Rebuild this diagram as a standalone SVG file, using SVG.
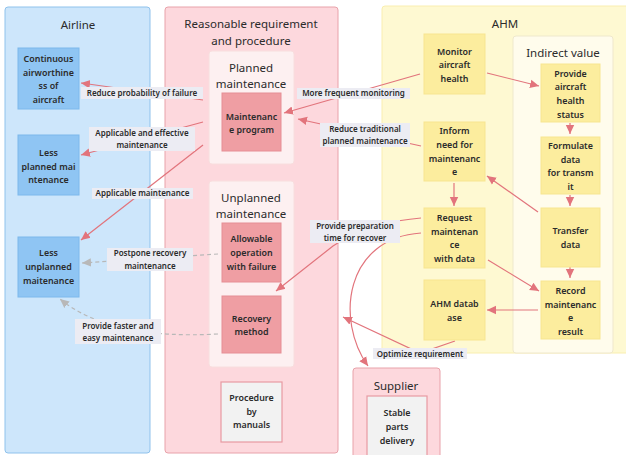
<svg xmlns="http://www.w3.org/2000/svg" width="626" height="455" viewBox="0 0 626 455">
<defs>
<marker id="ar" markerUnits="userSpaceOnUse" markerWidth="10" markerHeight="10" viewBox="0 0 10 10" refX="9" refY="5" orient="auto"><path d="M0,0.8 L9,5 L0,9.2 Z" fill="#e2747c"/></marker>
<marker id="ag" markerUnits="userSpaceOnUse" markerWidth="10" markerHeight="10" viewBox="0 0 10 10" refX="9" refY="5" orient="auto"><path d="M0,0.8 L9,5 L0,9.2 Z" fill="#b8b8b8"/></marker>
</defs>
<style>
text{font-family:"Noto Sans","DejaVu Sans",sans-serif;fill:#2b2b2b;text-anchor:middle}
.t{font-size:11.5px}
.n{font-size:8.9px;font-weight:600}
.l{font-size:8px;font-weight:600}
.cb{fill:#cde6fb;stroke:#8fc2ec;stroke-width:1}
.cp{fill:#fdd8dd;stroke:#e8a2aa;stroke-width:1}
.cy{fill:#fef9d2;stroke:#f9eeb0;stroke-width:1}
.sp{fill:#fdf0f1;stroke:#f8dede;stroke-width:1}
.sy{fill:#fffcec;stroke:#efe8cc;stroke-width:1}
.nb{fill:#8fc5f3;stroke:#7cb8ec;stroke-width:1}
.np{fill:#ef9ea3;stroke:#e68e95;stroke-width:1}
.ng{fill:#f2f2f2;stroke:#e89aa2;stroke-width:1.2}
.ny{fill:#fced9e;stroke:#f7e590;stroke-width:1}
.lb{fill:#ececf3}
.e{fill:none;stroke:#e2747c;stroke-width:1.2}
.d{fill:none;stroke:#b8b8b8;stroke-width:1.2;stroke-dasharray:4 3}
</style>
<g id="airline">
<rect class="cb" x="5" y="7" width="145" height="446" rx="3"/>
<text class="t" x="78" y="29">Airline</text>
</g>
<g id="reasonable">
<rect class="cp" x="165" y="7" width="173" height="446" rx="3"/>
<text class="t" x="251" y="28">Reasonable requirement</text>
<text class="t" x="251" y="45">and procedure</text>
</g>
<g id="planned">
<rect class="sp" x="209" y="51" width="85" height="113" rx="3"/>
<text class="t" x="251" y="72">Planned</text>
<text class="t" x="251" y="88">maintenance</text>
</g>
<g id="unplanned">
<rect class="sp" x="209" y="181" width="85" height="186" rx="3"/>
<text class="t" x="251" y="202">Unplanned</text>
<text class="t" x="251" y="218">maintenance</text>
</g>
<g id="ahm">
<rect class="cy" x="382" y="6" width="250" height="347" rx="3"/>
<text class="t" x="505" y="28">AHM</text>
</g>
<g id="indirect">
<rect class="sy" x="513" y="36" width="100" height="317" rx="3"/>
<text class="t" x="563" y="57">Indirect value</text>
</g>
<g id="supplier">
<rect class="cp" x="353" y="368" width="87" height="92" rx="3"/>
<text class="t" x="396" y="390">Supplier</text>
</g>

<g id="connectors">
<path class="e" d="M420,74 L284,113" marker-end="url(#ar)"/>
<path class="e" d="M421,146 L298,119" marker-end="url(#ar)"/>
<path class="e" d="M203,100 L81,83" marker-end="url(#ar)"/>
<path class="e" d="M203,122 L81,155" marker-end="url(#ar)"/>
<path class="e" d="M203,145 L81,240" marker-end="url(#ar)"/>
<path class="d" d="M218,254 L82,263" marker-end="url(#ag)"/>
<path class="d" d="M218,334 Q110,340 60,299" marker-end="url(#ag)"/>
<path class="e" d="M421,218 C395,220 360,228 333,246 L276,291" marker-end="url(#ar)"/>
<path class="e" d="M421,233 C345,238 335,320 368,366" marker-end="url(#ar)"/>
<path class="e" d="M455,341 L420,353 L343,317" marker-end="url(#ar)"/>
<path class="e" d="M487,73 L539,86" marker-end="url(#ar)"/>
<path class="e" d="M570,123 L570,134" marker-end="url(#ar)"/>
<path class="e" d="M570,195 L570,206" marker-end="url(#ar)"/>
<path class="e" d="M570,267 L570,278" marker-end="url(#ar)"/>
<path class="e" d="M538,212 L487,176" marker-end="url(#ar)"/>
<path class="e" d="M454,183 L454,206" marker-end="url(#ar)"/>
<path class="e" d="M488,260 L539,291" marker-end="url(#ar)"/>
<path class="e" d="M538,310 L487,310" marker-end="url(#ar)"/>
<g id="labels">
<rect class="lb" x="81" y="87" width="122" height="12"/>
<text class="l" x="142" y="95.8">Reduce probability of failure</text>
<rect class="lb" x="89" y="127" width="106" height="24"/>
<text class="l" x="142" y="135.8">Applicable and effective</text>
<text class="l" x="142" y="147.8">maintenance</text>
<rect class="lb" x="92" y="188" width="101" height="11"/>
<text class="l" x="142.5" y="196.3">Applicable maintenance</text>
<rect class="lb" x="107" y="248" width="86" height="23"/>
<text class="l" x="150" y="256">Postpone recovery</text>
<text class="l" x="150" y="268.5">maintenance</text>
<rect class="lb" x="75" y="319" width="86" height="25"/>
<text class="l" x="118" y="328.5">Provide faster and</text>
<text class="l" x="118" y="340.8">easy maintenance</text>
<rect class="lb" x="297" y="88" width="113" height="11"/>
<text class="l" x="353.5" y="96.3">More frequent monitoring</text>
<rect class="lb" x="320" y="123" width="90" height="24"/>
<text class="l" x="365" y="131.8">Reduce traditional</text>
<text class="l" x="365" y="143.8">planned maintenance</text>
<rect class="lb" x="310" y="220" width="90" height="23"/>
<text class="l" x="355" y="228.8">Provide preparation</text>
<text class="l" x="355" y="240.8">time for recover</text>
<rect class="lb" x="373" y="348" width="94" height="11"/>
<text class="l" x="420" y="356.5">Optimize requirement</text>
</g>
</g>

<g id="n-continuous">
<rect class="nb" x="18" y="48" width="61" height="61"/>
<text class="n" x="48.5" y="62">Continuous</text>
<text class="n" x="48.5" y="75.5">airworthine</text>
<text class="n" x="48.5" y="89">ss of</text>
<text class="n" x="48.5" y="102.5">aircraft</text>
</g>
<g id="n-lessplanned">
<rect class="nb" x="18" y="135" width="61" height="60"/>
<text class="n" x="48.5" y="156">Less</text>
<text class="n" x="48.5" y="169.5">planned mai</text>
<text class="n" x="48.5" y="183">ntenance</text>
</g>
<g id="n-lessunplanned">
<rect class="nb" x="18" y="237" width="61" height="60"/>
<text class="n" x="48.5" y="256">Less</text>
<text class="n" x="48.5" y="270">unplanned</text>
<text class="n" x="48.5" y="284">maitenance</text>
</g>
<g id="n-program">
<rect class="np" x="222" y="93" width="59" height="58"/>
<text class="n" x="251.5" y="120">Maintenanc</text>
<text class="n" x="251.5" y="133">e program</text>
</g>
<g id="n-allowable">
<rect class="np" x="222" y="223" width="59" height="59"/>
<text class="n" x="251.5" y="242">Allowable</text>
<text class="n" x="251.5" y="256">operation</text>
<text class="n" x="251.5" y="269.5">with failure</text>
</g>
<g id="n-recovery">
<rect class="np" x="222" y="296" width="59" height="57"/>
<text class="n" x="251.5" y="322">Recovery</text>
<text class="n" x="251.5" y="335">method</text>
</g>
<g id="n-procedure">
<rect class="ng" x="221" y="382" width="61" height="60"/>
<text class="n" x="251.5" y="401">Procedure</text>
<text class="n" x="251.5" y="415">by</text>
<text class="n" x="251.5" y="428">manuals</text>
</g>
<g id="n-monitor">
<rect class="ny" x="424" y="34" width="61" height="60"/>
<text class="n" x="454.5" y="55">Monitor</text>
<text class="n" x="454.5" y="68">aircraft</text>
<text class="n" x="454.5" y="81.5">health</text>
</g>
<g id="n-inform">
<rect class="ny" x="424" y="122" width="61" height="59"/>
<text class="n" x="454.5" y="134">Inform</text>
<text class="n" x="454.5" y="148">need for</text>
<text class="n" x="454.5" y="161.5">maintenanc</text>
<text class="n" x="454.5" y="175">e</text>
</g>
<g id="n-request">
<rect class="ny" x="424" y="208" width="61" height="60"/>
<text class="n" x="454.5" y="221">Request</text>
<text class="n" x="454.5" y="235">maintenan</text>
<text class="n" x="454.5" y="248">ce</text>
<text class="n" x="454.5" y="261.5">with data</text>
</g>
<g id="n-database">
<rect class="ny" x="424" y="280" width="61" height="60"/>
<text class="n" x="454.5" y="307">AHM datab</text>
<text class="n" x="454.5" y="321">ase</text>
</g>
<g id="n-provide">
<rect class="ny" x="541" y="64" width="59" height="58"/>
<text class="n" x="570.5" y="76.5">Provide</text>
<text class="n" x="570.5" y="90">aircraft</text>
<text class="n" x="570.5" y="104">health</text>
<text class="n" x="570.5" y="117.5">status</text>
</g>
<g id="n-formulate">
<rect class="ny" x="541" y="137" width="59" height="57"/>
<text class="n" x="570.5" y="149">Formulate</text>
<text class="n" x="570.5" y="162.5">data</text>
<text class="n" x="570.5" y="176">for transm</text>
<text class="n" x="570.5" y="189.5">it</text>
</g>
<g id="n-transfer">
<rect class="ny" x="541" y="208" width="59" height="59"/>
<text class="n" x="570.5" y="234">Transfer</text>
<text class="n" x="570.5" y="247.5">data</text>
</g>
<g id="n-record">
<rect class="ny" x="541" y="281" width="59" height="58"/>
<text class="n" x="570.5" y="293.5">Record</text>
<text class="n" x="570.5" y="307.5">maintenanc</text>
<text class="n" x="570.5" y="321">e</text>
<text class="n" x="570.5" y="335">result</text>
</g>
<g id="n-stable">
<rect class="ng" x="367" y="396" width="60" height="64"/>
<text class="n" x="397" y="416">Stable</text>
<text class="n" x="397" y="430">parts</text>
<text class="n" x="397" y="443.5">delivery</text>
</g>
</svg>
